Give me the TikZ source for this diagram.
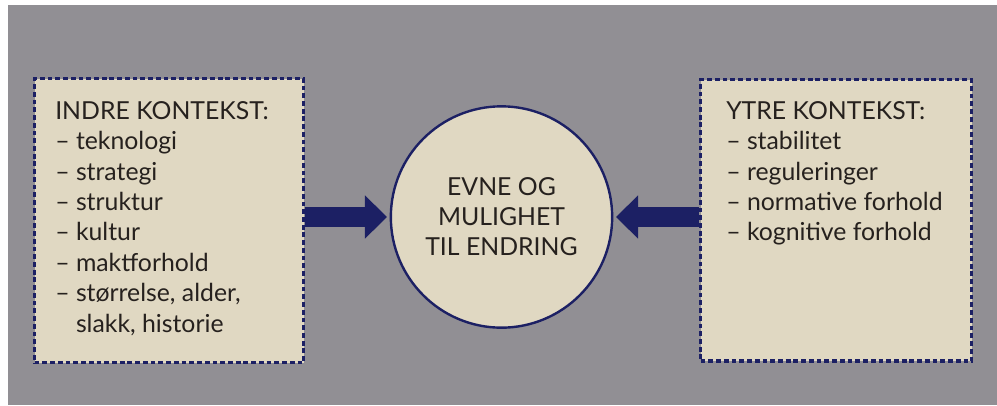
\documentclass[tikz,border=0pt]{standalone}
\usepackage{fontspec}
\setmainfont{Lato}
\usetikzlibrary{arrows.meta,positioning}

\definecolor{boardGrey}{RGB}{145,143,148}
\definecolor{paperBeige}{RGB}{224,216,194}
\definecolor{inkNavy}{RGB}{28,32,100}
\definecolor{textBrown}{RGB}{38,33,30}

\begin{document}
\begin{tikzpicture}[
  x=0.75pt, y=-0.75pt,
  listText/.style={font=\fontsize{18.6}{22.8}\selectfont\color{textBrown}, align=left, anchor=north west, inner sep=0pt},
  pushArrow/.style={draw=inkNavy, line width=15pt, -{Triangle[width=31.5pt, length=16.5pt]}, shorten >=2pt}
]
	\tikzstyle{contextBox} = [rectangle, draw=inkNavy, fill=paperBeige, line width=2.5pt, dash pattern=on 3.6pt off 2.2pt, anchor=north west, inner sep=0pt]
	\tikzstyle{changeCircle} = [circle, draw=inkNavy, fill=paperBeige, line width=1.8pt, minimum size=166pt, inner sep=0pt, align=center, font=\fontsize{18.6}{22.5}\selectfont\color{textBrown}]

	% paper edge and grey board
	\fill[white] (0,0) rectangle (997,405);
	\fill[boardGrey] (8,5) rectangle (997,405);

	\node (indreBox) [contextBox, minimum width=201.75pt, minimum height=213pt] at (33,77) {};
	\node (ytreBox) [contextBox, minimum width=203.25pt, minimum height=211pt] at (699,78) {};
	\node (evne) [changeCircle] at (501.5,217) {EVNE OG\\MULIGHET\\TIL ENDRING};

	\node (indreList) [listText] at (55,101) {INDRE KONTEKST:\\
		-- teknologi\\
		-- strategi\\
		-- struktur\\
		-- kultur\\
		-- maktforhold\\
		-- størrelse, alder,\\
		\phantom{-- }slakk, historie};
	\node (ytreList) [listText] at (726,101) {YTRE KONTEKST:\\
		-- stabilitet\\
		-- reguleringer\\
		-- normative forhold\\
		-- kognitive forhold};

	\draw[pushArrow] (indreBox.east |- evne.west) -- (evne.west);
	\draw[pushArrow] (ytreBox.west |- evne.east) -- (evne.east);
\end{tikzpicture}
\end{document}
